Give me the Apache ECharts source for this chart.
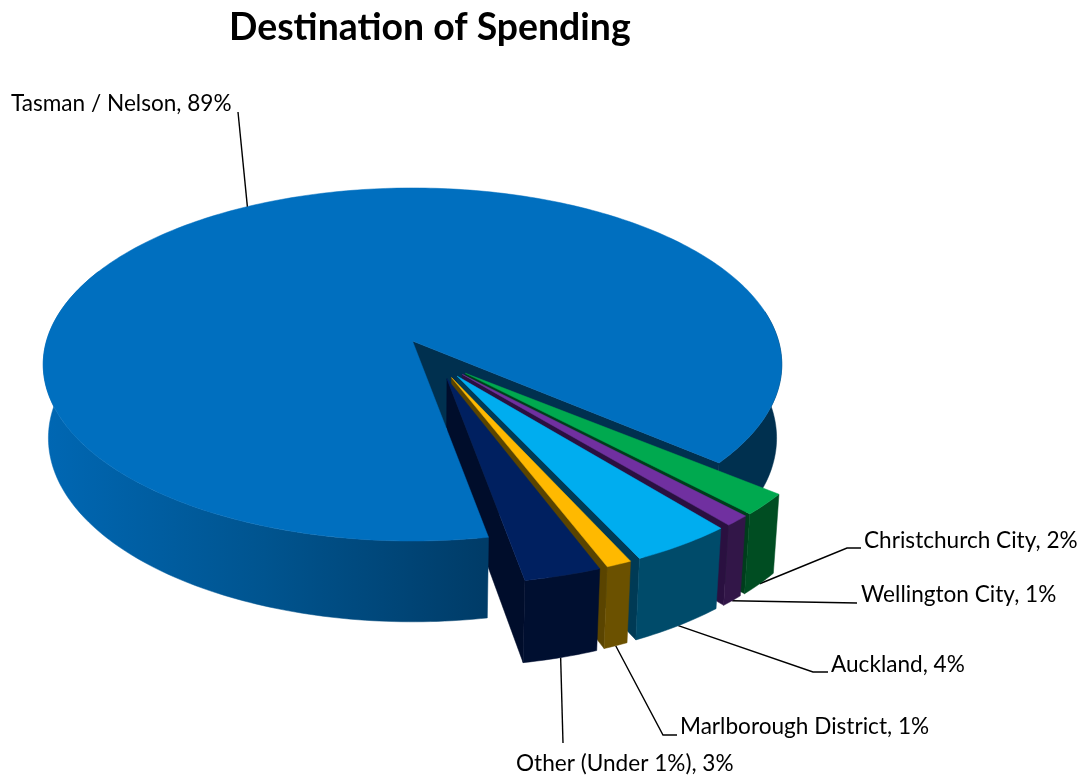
<!DOCTYPE html>
<html>
<head>
<meta charset="utf-8">
<style>html,body{margin:0;padding:0;background:#fff}#chart{width:1084px;height:778px}</style>
<script src="https://cdn.jsdelivr.net/npm/echarts@6/dist/echarts.min.js"></script>
</head>
<body>
<div id="chart"></div>
<script>
// Destination of spending, percent of total, clockwise from the large slice
const categories = ['Tasman / Nelson', 'Christchurch City', 'Wellington City', 'Auckland', 'Marlborough District', 'Other (Under 1%)'];
const shares = [89, 2, 1, 4, 1, 3];

const topColours = ['#006FBF', '#00A94F', '#7030A0', '#00ADEF', '#FFB900', '#002060'];
const wallColours = ['#00548F', '#004D22', '#321648', '#004B6A', '#6B5100', '#000F30'];
const faceColours = ['#00304F', '#003D1C', '#2A1040', '#003A55', '#5A4400', '#000D2B'];

// Leader-line bends and label anchors, one per category
const leaderBends = [[[238, 112]], [[847, 548], [861, 548]], [[857, 603]], [[813, 672], [828, 672]], [[663, 735], [677, 735]], [[563, 743]]];
const labelAnchors = [[11, 104, 'left'], [864, 541, 'left'], [861, 595, 'left'], [831, 665, 'left'], [680, 727, 'left'], [516, 764, 'left']];

// Perspective projection of the disc: X right, Y toward the viewer, Z down through the thickness
const view = { cx: 412.5, cy: 341, rx: 366, ry: 173.4, depth: 74, tilt: 0.133, taper: 0.014 };
const firstSliceEnd = 40; // degrees clockwise from 3 o'clock where the large slice ends
// Pulled-out slices: distance from the centre, fan of pull directions, smaller radius, and
// how far each slice is turned away from the middle of the gap
const pull = { distance: 0.23, fan: 0.47, radius: 0.97, spread: 0.05, turn: -0.3 };

function project(X, Y, Z) {
  const w = 1 - view.tilt * Y + view.taper * Z;
  return [view.cx + view.rx * X / w, view.cy + (view.ry * Y + view.depth * Z) / w];
}

const total = shares.reduce((a, b) => a + b, 0);
const spans = [];
(function () {
  let from = firstSliceEnd + (total - shares[0]) / total * 360;
  spans.push([from, from + shares[0] / total * 360]);
  from = firstSliceEnd;
  for (let i = 1; i < shares.length; i++) {
    const to = from + shares[i] / total * 360;
    spans.push([from, to]);
    from = to;
  }
})();

const rad = d => d * Math.PI / 180;
const gapMiddle = firstSliceEnd + (total - shares[0]) / total * 180;

function sliceGeometry(i) {
  const main = i === 0;
  const midRaw = (spans[i][0] + spans[i][1]) / 2;
  const shift = main ? 0 : (midRaw - gapMiddle) * pull.spread + pull.turn;
  const a0 = spans[i][0] + shift, a1 = spans[i][1] + shift;
  const midDeg = (a0 + a1) / 2;
  const dir = rad(gapMiddle + (midRaw - gapMiddle) * pull.fan);
  const off = main ? 0 : pull.distance;
  const r = main ? 1 : pull.radius;
  const ox = off * Math.cos(dir), oy = off * Math.sin(dir);
  const rim = (deg, z) => project(ox + r * Math.cos(rad(deg)), oy + r * Math.sin(rad(deg)), z);
  const apex = z => project(ox, oy, z);
  return { a0, a1, midDeg, rim, apex };
}

function arcPoints(g, from, to, z) {
  const n = Math.max(2, Math.ceil(Math.abs(to - from)));
  const pts = [];
  for (let k = 0; k <= n; k++) pts.push(g.rim(from + (to - from) * k / n, z));
  return pts;
}

function poly(points, fill, z2) {
  return { type: 'polygon', z2, silent: true, shape: { points }, style: { fill, stroke: fill, lineWidth: 0.5 } };
}

function wall(g, from, to, fill, z2) {
  return poly(arcPoints(g, from, to, 0).concat(arcPoints(g, to, from, 1)), fill, z2);
}

function renderSlice(params, api) {
  const i = params.dataIndex;
  const g = sliceGeometry(i);
  const value = api.value(0);
  const children = [];

  if (i === 0) {
    // Parts of the large slice seen through the gap sit behind the pulled-out slices
    const end = g.a1;
    children.push(poly([g.apex(0), g.rim(end, 0), g.rim(end, 1), g.apex(1)], faceColours[0], 1));
    children.push(wall(g, g.a1 - 50, g.a1, faceColours[0], 1));
    children.push(wall(g, g.a0, 205, new echarts.graphic.LinearGradient(46, 0, 483, 0, [
      { offset: 0, color: '#0067B3' },
      { offset: 0.5, color: '#00548F' },
      { offset: 1, color: '#003C68' }
    ], true), 3));
    children.push(poly([g.apex(0)].concat(arcPoints(g, g.a0, g.a1, 0)), topColours[0], 4));
  } else {
    const base = 10 + i * 4;
    // Cut faces run back under the large slice's front edge
    children.push(poly([g.apex(0), g.rim(g.a1, 0), g.rim(g.a1, 1), g.apex(1)], faceColours[i], 2));
    children.push(wall(g, g.a0, g.a1, wallColours[i], base + 1));
    children.push(poly([g.apex(0)].concat(arcPoints(g, g.a0, g.a1, 0)), topColours[i], base + 2));
  }

  // Leader line from the slice rim out to its label
  const start = g.rim(g.midDeg, i === 0 ? 0 : 1);
  children.push({
    type: 'polyline', z2: i === 0 ? 5 : 6, silent: true,
    shape: { points: [start].concat(leaderBends[i]) },
    style: { stroke: '#000', lineWidth: 1.4, fill: null }
  });
  const [lx, ly, align] = labelAnchors[i];
  children.push({
    type: 'text', z2: 40, silent: true,
    style: {
      text: categories[i] + ', ' + value + '%',
      x: lx, y: ly, align, verticalAlign: 'middle',
      fill: '#000', font: '22.6px Lato'
    }
  });
  return { type: 'group', children };
}

const chart = echarts.init(document.getElementById('chart'), null, { renderer: 'canvas' });
chart.setOption({
  animation: false,
  backgroundColor: '#fff',
  title: {
    text: 'Destination of Spending',
    left: 224, top: 4,
    textStyle: { fontFamily: 'Lato', fontWeight: 'bold', fontSize: 37.4, color: '#000' }
  },
  series: [{
    type: 'custom',
    coordinateSystem: 'none',
    silent: true,
    data: shares.map(v => [v]),
    renderItem: renderSlice
  }]
});
</script>
</body>
</html>
